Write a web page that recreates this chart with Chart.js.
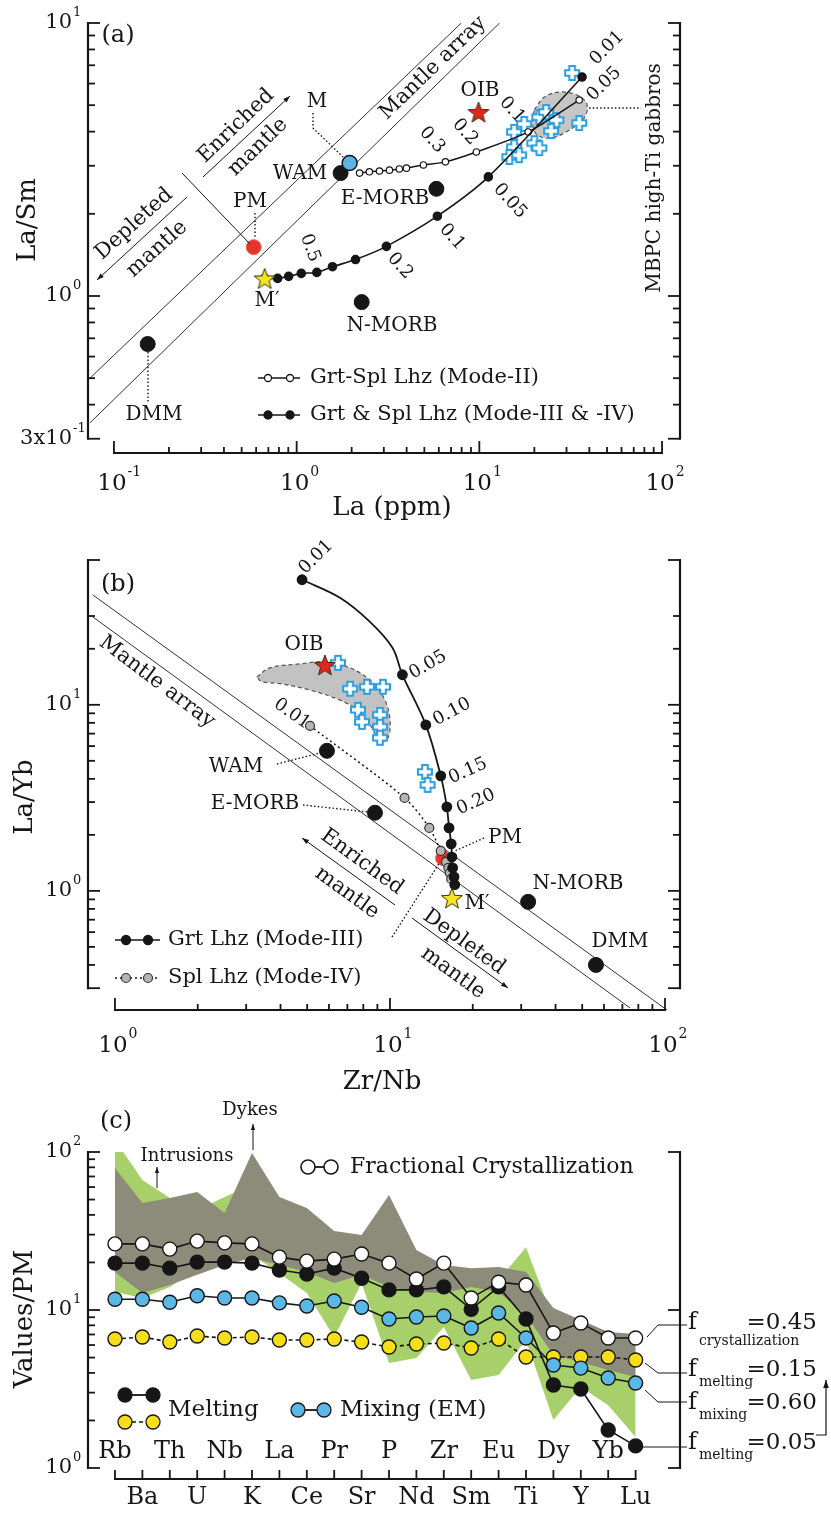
<!DOCTYPE html>
<html>
<head>
<meta charset="utf-8">
<script src="https://cdn.jsdelivr.net/npm/chart.js@4.4.1/dist/chart.umd.min.js"></script>
<style>
  html, body { margin: 0; background: #fff; }
  body { position: relative; width: 831px; height: 1517px; overflow: hidden; }
  canvas { position: absolute; left: 0; }
</style>
</head>
<body>
<canvas id="panelA" width="831" height="528" style="top:0px"></canvas>
<canvas id="panelB" width="831" height="570" style="top:528px"></canvas>
<canvas id="panelC" width="831" height="419" style="top:1098px"></canvas>
<script>
const FONT = '"DejaVu Serif", "Liberation Serif", serif';
const INK = '#161616';

// ---------- (a) La (ppm) vs La/Sm ----------
const aResLa = [0.153, 2.27, 5.82, 1.74];          // DMM, N-MORB, E-MORB, WAM
const aResLaSm = [0.667, 0.95, 2.47, 2.82];
const aPmLa = [0.582], aPmLaSm = [1.51];
const aMLa = [1.95], aMLaSm = [3.07];
const aMpLa = [0.668], aMpLaSm = [1.16];            // M'
const aOibLa = [9.9], aOibLaSm = [4.72];
const aMode2La = [2.21, 2.50, 2.84, 3.22, 3.65, 3.99, 4.94, 6.52, 9.63, 18.5, 35.2];
const aMode2LaSm = [2.82, 2.85, 2.87, 2.89, 2.92, 2.94, 3.02, 3.10, 3.37, 3.99, 5.22];
const aMode34La = [0.668, 0.787, 0.904, 1.06, 1.29, 1.57, 2.10, 3.10, 5.89, 11.2, 36.5];
const aMode34LaSm = [1.16, 1.16, 1.18, 1.21, 1.22, 1.28, 1.36, 1.52, 1.96, 2.73, 6.34];
const aGabLa = [32.2, 35.2, 15.5, 17.6, 21.3, 23.2, 26.4, 24.7, 20.0, 21.3, 15.5, 14.6, 16.5];
const aGabLaSm = [6.56, 4.30, 3.99, 4.27, 4.52, 4.72, 4.41, 4.02, 3.63, 3.48, 3.51, 3.23, 3.28];
const aFieldLa = [20.0, 22.7, 28.1, 35.2, 38.9, 37.5, 31.0, 24.7, 20.7, 19.5, 20.0];
const aFieldLaSm = [4.80, 5.36, 5.59, 5.40, 5.01, 4.49, 4.05, 3.79, 3.89, 4.34, 4.80];
const aArrayUpLa = [0.0739, 7.97], aArrayUpLaSm = [0.50, 10];
const aArrayLoLa = [0.0739, 12.9], aArrayLoLaSm = [0.343, 10];
const aYTicks = [0.3, 0.4, 0.5, 0.6, 0.7, 0.8, 0.9, 1, 2, 3, 4, 5, 6, 7, 8, 9, 10];
const aXTicks = [0.1, 0.2, 0.3, 0.4, 0.5, 0.6, 0.7, 0.8, 0.9, 1, 2, 3, 4, 5, 6, 7, 8, 9,
  10, 20, 30, 40, 50, 60, 70, 80, 90, 100];
const aYLabels = [[0.3, '3x10', '-1'], [1, '10', '0'], [10, '10', '1']];
const aXLabels = [[0.1, '10', '-1'], [1, '10', '0'], [10, '10', '1'], [100, '10', '2']];

// ---------- (b) Zr/Nb vs La/Yb ----------
const bGrtZrNb = [4.79, 6.58, 8.46, 10.2, 11.1, 13.5, 15.3, 16.1, 16.4, 16.7, 16.8, 16.9, 17.1, 17.2];
const bGrtLaYb = [47.0, 37.6, 27.9, 20.3, 14.5, 7.80, 4.15, 2.83, 2.18, 1.79, 1.52, 1.33, 1.19, 1.08];
const bGrtUnmarked = [1, 2, 3];
const bSplZrNb = [5.12, 11.3, 13.9, 15.3, 16.0, 16.3, 16.5, 16.7];
const bSplLaYb = [7.71, 3.16, 2.18, 1.64, 1.43, 1.33, 1.25, 1.16];
const bResZrNb = [5.90, 8.82, 31.8, 56.1];          // WAM, E-MORB, N-MORB, DMM
const bResLaYb = [5.66, 2.63, 0.873, 0.40];
const bPmZrNb = [15.6], bPmLaYb = [1.50];
const bMpZrNb = [16.8], bMpLaYb = [0.917];
const bOibZrNb = [5.80], bOibLaYb = [16.4];
const bGabZrNb = [6.47, 7.16, 8.25, 9.43, 7.65, 7.91, 9.20, 9.20, 9.20, 13.4, 13.7];
const bGabLaYb = [16.8, 12.2, 12.5, 12.5, 9.40, 8.10, 8.83, 7.62, 6.65, 4.36, 3.71];
const bFieldZrNb = [3.28, 3.66, 4.71, 5.80, 7.16, 8.60, 9.59, 10.0, 9.84, 9.20, 8.60, 7.78, 6.58, 5.12, 3.98, 3.42, 3.28];
const bFieldLaYb = [14.1, 15.8, 16.6, 17.0, 15.8, 13.3, 10.6, 8.30, 6.65, 6.32, 7.52, 9.17, 10.6, 12.0, 13.0, 13.3, 14.1];
const bArrayUpZrNb = [0.83, 101.7], bArrayUpLaYb = [39.0, 0.229];
const bArrayLoZrNb = [0.83, 74.6], bArrayLoLaYb = [29.7, 0.235];
const bYTicks = [0.3, 0.4, 0.5, 0.6, 0.7, 0.8, 0.9, 1, 2, 3, 4, 5, 6, 7, 8, 9, 10, 20, 30, 60];
const bXTicks = [1, 2, 3, 4, 5, 6, 7, 8, 9, 10, 20, 30, 40, 50, 60, 70, 80, 90, 100];
const bYLabels = [[1, '10', '0'], [10, '10', '1']];
const bXLabels = [[1, '10', '0'], [10, '10', '1'], [100, '10', '2']];

// ---------- (c) PM-normalised patterns ----------
const elements = ['Rb', 'Ba', 'Th', 'U', 'Nb', 'K', 'La', 'Ce', 'Pr', 'Sr', 'P', 'Nd', 'Zr', 'Sm', 'Eu', 'Ti', 'Dy', 'Y', 'Yb', 'Lu'];
const fracCryst = [26.2, 26.2, 24.3, 27.3, 26.6, 26.2, 21.6, 20.4, 21.0, 22.6, 19.8, 15.7, 19.8, 11.9, 15.0, 14.4, 7.15, 8.27, 6.65, 6.65];
const melt005 = [19.8, 19.8, 18.4, 20.1, 20.1, 19.8, 17.9, 16.9, 18.4, 15.9, 13.4, 13.4, 14.0, 10.1, 14.0, 8.77, 3.35, 3.16, 1.74, 1.38];
const mixEM = [11.7, 11.7, 11.2, 12.3, 11.9, 11.9, 11.1, 10.6, 11.4, 10.4, 8.77, 9.03, 9.16, 7.69, 9.57, 6.65, 4.49, 4.29, 3.71, 3.45];
const melt015 = [6.55, 6.75, 6.27, 6.84, 6.65, 6.75, 6.46, 6.46, 6.55, 6.27, 5.83, 6.09, 6.18, 5.75, 6.55, 5.04, 5.04, 5.04, 5.04, 4.83];
const dykeMax = [79.2, 47.6, 51.2, 55.8, 41.1, 98.6, 51.9, 44.2, 31.6, 29.8, 53.4, 24.0, 19.3, 18.4, 18.7, 17.4, 10.3, 8.64, 7.26, 7.05];
const dykeMin = [17.4, 12.8, 14.4, 16.7, 19.3, 21.3, 19.3, 17.4, 14.8, 16.7, 14.0, 13.0, 12.8, 14.0, 13.0, 9.3, 5.19, 4.69, 4.17, 3.77];
const intrMax = [119, 66.5, 51.2, 42.9, 51.9, 61.8, 39.9, 34.5, 27.7, 25.8, 24.0, 21.3, 17.9, 16.7, 15.5, 25.0, 8.64, 8.03, 6.46, 6.0];
const intrMin = [13.0, 11.9, 14.0, 17.9, 19.8, 22.3, 17.1, 12.8, 6.75, 14.8, 4.62, 4.97, 7.80, 3.61, 3.88, 6.46, 2.01, 3.26, 2.50, 1.57];
const cYTicks = [1, 2, 3, 4, 5, 6, 7, 8, 9, 10, 20, 30, 40, 50, 60, 70, 80, 90, 100];
const cYLabels = [[1, '10', '0'], [10, '10', '1'], [100, '10', '2']];

// ---------- helpers ----------
const pts = (xs, ys) => xs.map((x, i) => ({ x, y: ys[i] }));
const idx = (ys) => ys.map((y, i) => ({ x: i, y }));

function starImg(fill, R) {
  const s = Math.ceil(R * 2 + 4), c = document.createElement('canvas');
  c.width = c.height = s;
  const g = c.getContext('2d');
  g.translate(s / 2, s / 2 + R * 0.1);
  g.beginPath();
  for (let i = 0; i < 10; i++) {
    const r = i % 2 ? R * 0.42 : R, a = -Math.PI / 2 + i * Math.PI / 5;
    g.lineTo(r * Math.cos(a), r * Math.sin(a));
  }
  g.closePath();
  g.fillStyle = fill; g.fill();
  g.lineWidth = 1; g.strokeStyle = '#3a2a10'; g.stroke();
  return c;
}

function plusImg(arm, half, color) {
  const s = arm * 2 + 4, c = document.createElement('canvas');
  c.width = c.height = s;
  const g = c.getContext('2d');
  g.translate(s / 2, s / 2);
  const p = [[-half, -arm], [half, -arm], [half, -half], [arm, -half], [arm, half], [half, half],
    [half, arm], [-half, arm], [-half, half], [-arm, half], [-arm, -half], [-half, -half]];
  g.beginPath(); p.forEach(([x, y]) => g.lineTo(x, y)); g.closePath();
  g.fillStyle = '#fff'; g.fill();
  g.lineWidth = 2; g.strokeStyle = color; g.stroke();
  return c;
}

const redStar = starImg('#e2261d', 11);
const yellowStar = starImg('#f3e521', 11);
const bluePlus = plusImg(7, 2.8, '#2b9ee2');

function text(ctx, s, x, y, size, rot = 0, align = 'center') {
  ctx.save();
  ctx.font = `${size}px ${FONT}`;
  ctx.fillStyle = INK;
  ctx.textAlign = align; ctx.textBaseline = 'middle';
  ctx.translate(x, y);
  if (rot) ctx.rotate(rot * Math.PI / 180);
  ctx.fillText(s, 0, 0);
  ctx.restore();
}

function poly(ctx, p, w = 1.2, dash = null) {
  ctx.save();
  ctx.strokeStyle = INK; ctx.lineWidth = w;
  if (dash) ctx.setLineDash(dash);
  ctx.beginPath(); p.forEach(([x, y]) => ctx.lineTo(x, y)); ctx.stroke();
  ctx.restore();
}
const dotted = (ctx, p) => poly(ctx, p, 1.4, [1.5, 2.2]);

function arrow(ctx, p, w = 1, head = 7) {
  poly(ctx, p, w);
  const [x1, y1] = p[p.length - 2], [x2, y2] = p[p.length - 1];
  const a = Math.atan2(y2 - y1, x2 - x1);
  ctx.save();
  ctx.fillStyle = INK;
  ctx.translate(x2, y2); ctx.rotate(a);
  ctx.beginPath(); ctx.moveTo(0, 0); ctx.lineTo(-head, -head * 0.35); ctx.lineTo(-head, head * 0.35); ctx.closePath(); ctx.fill();
  ctx.restore();
}

function dot(ctx, x, y, r, fill, stroke = INK, w = 1.3) {
  ctx.save();
  ctx.beginPath(); ctx.arc(x, y, r, 0, Math.PI * 2);
  ctx.fillStyle = fill; ctx.fill();
  ctx.lineWidth = w; ctx.strokeStyle = stroke; ctx.stroke();
  ctx.restore();
}

function powLabel(ctx, base, exp, x, y, size, align) {
  const es = Math.round(size * 0.62);
  ctx.save();
  ctx.fillStyle = INK; ctx.textBaseline = 'middle'; ctx.textAlign = 'left';
  ctx.font = `${size}px ${FONT}`;
  const bw = ctx.measureText(base).width;
  const bx = align === 'right' ? x - bw : x - bw / 2;
  ctx.fillText(base, bx, y);
  ctx.font = `${es}px ${FONT}`;
  ctx.fillText(exp, bx + bw + 1, y - size * 0.5);
  ctx.restore();
}

// axes: detached left/right/bottom spines with inward ticks
function frame(chart, ax) {
  const { ctx, chartArea: ca, scales: { x, y } } = chart;
  const ln = (x1, y1, x2, y2) => { ctx.beginPath(); ctx.moveTo(x1, y1); ctx.lineTo(x2, y2); ctx.stroke(); };
  ctx.save();
  ctx.strokeStyle = INK;
  const sides = [[ca.left, 1, ax.yTicks]];
  if (ax.rightTicks) sides.push([ca.right, -1, ax.rightTicks]);
  sides.forEach(([sx, dir, ticks]) => {
    const yTop = y.getPixelForValue(ticks[ticks.length - 1]), yBot = y.getPixelForValue(ticks[0]);
    ctx.lineWidth = 2.2; ln(sx, yTop - 1, sx, yBot + 1);
    ctx.lineWidth = 1.8;
    ticks.forEach(t => {
      const py = y.getPixelForValue(t), len = ax.yMajor.includes(t) ? 12 : 7;
      ln(sx, py, sx + dir * len, py);
    });
  });
  const xv = ax.xTicks, xl = x.getPixelForValue(xv[0]), xr = x.getPixelForValue(xv[xv.length - 1]);
  ctx.lineWidth = 2.2; ln(xl - 1, ca.bottom, xr + 1, ca.bottom);
  ctx.lineWidth = 1.8;
  xv.forEach(t => {
    const px = x.getPixelForValue(t), len = ax.xMajor.includes(t) ? 12 : ax.xMinorLen;
    ln(px, ca.bottom, px, ca.bottom - len);
  });
  ctx.restore();
  ax.yLabels.forEach(([v, b, e]) => powLabel(ctx, b, e, 72, y.getPixelForValue(v), 21, 'right'));
  (ax.xLabels || []).forEach(([v, b, e]) => powLabel(ctx, b, e, x.getPixelForValue(v) - 2, ca.bottom + ax.xLabelDy, 23, 'center'));
}

function deco(top, ax, draw) {
  return {
    id: 'deco',
    beforeDatasetsDraw(chart) {
      if (!draw.under) return;
      const c = chart.ctx; c.save(); c.translate(0, -top); draw.under(c, chart); c.restore();
    },
    afterDatasetsDraw(chart) {
      frame(chart, ax);
      const c = chart.ctx; c.save(); c.translate(0, -top); draw.over(c, chart); c.restore();
    }
  };
}

function makeChart(id, top, area, xs, ys, datasets, ax, draw) {
  const canvas = document.getElementById(id);
  return new Chart(canvas, {
    type: 'scatter',
    data: { datasets },
    options: {
      responsive: false, animation: false, devicePixelRatio: 1, events: [],
      layout: { padding: { left: area[0], right: 831 - area[1], top: area[2] - top, bottom: canvas.height - (area[3] - top) } },
      plugins: { legend: { display: false }, tooltip: { enabled: false } },
      scales: { x: { ...xs, display: false }, y: { ...ys, display: false } }
    },
    plugins: [deco(top, ax, draw)]
  });
}

// ---------- panel (a) ----------
makeChart('panelA', 0, [88, 680, 23, 453],
  { type: 'logarithmic', min: 0.0721, max: 125.4 },
  { type: 'logarithmic', min: 0.266, max: 10 },
  [
    { data: pts(aOibLa, aOibLaSm), pointStyle: redStar, order: 0 },
    { data: pts(aMpLa, aMpLaSm), pointStyle: yellowStar, order: 0 },
    { data: pts(aMLa, aMLaSm), pointRadius: 7.5, backgroundColor: '#5ab4e5', borderColor: INK, borderWidth: 1.5, order: 1 },
    { data: pts(aResLa, aResLaSm), pointRadius: 7.5, backgroundColor: INK, borderColor: INK, order: 1 },
    { data: pts(aPmLa, aPmLaSm), pointRadius: 7.5, backgroundColor: '#e4362b', borderColor: '#ee6a5c', borderWidth: 1, order: 1 },
    { data: pts(aMode34La, aMode34LaSm), showLine: true, tension: 0.3, borderColor: INK, borderWidth: 1.6,
      pointRadius: 4, backgroundColor: INK, order: 2 },
    { data: pts(aMode2La, aMode2LaSm), showLine: true, tension: 0.3, borderColor: INK, borderWidth: 1.5,
      pointRadius: 3.2, pointBackgroundColor: '#fff', pointBorderColor: INK, pointBorderWidth: 1.2, order: 2 },
    { data: pts(aGabLa, aGabLaSm), pointStyle: bluePlus, order: 3 },
    { data: pts(aFieldLa, aFieldLaSm), showLine: true, tension: 0.35, fill: 'shape', backgroundColor: '#c6c6c6',
      borderColor: '#555', borderWidth: 1.2, borderDash: [4, 3], pointRadius: 0, order: 4 },
    { data: pts(aArrayUpLa, aArrayUpLaSm), showLine: true, borderColor: '#333', borderWidth: 1, pointRadius: 0, order: 5 },
    { data: pts(aArrayLoLa, aArrayLoLaSm), showLine: true, borderColor: '#333', borderWidth: 1, pointRadius: 0, order: 5 }
  ],
  { yTicks: aYTicks, rightTicks: aYTicks, yMajor: [0.3, 1, 10], xTicks: aXTicks, xMajor: [0.1, 1, 10, 100],
    xMinorLen: 6, yLabels: aYLabels, xLabels: aXLabels, xLabelDy: 31 },
  {
    over(ctx) {
      text(ctx, '(a)', 118, 36, 24);
      text(ctx, 'La/Sm', 28, 220, 26, -90);
      text(ctx, 'La (ppm)', 392, 508, 26);
      // mantle array annotations
      text(ctx, 'Mantle array', 433, 68, 21, -44);
      arrow(ctx, [[203, 177], [290, 96]]);
      text(ctx, 'Enriched', 236, 126, 21, -44);
      text(ctx, 'mantle', 258, 147, 21, -44);
      arrow(ctx, [[187, 197], [97, 280]]);
      text(ctx, 'Depleted', 134, 224, 21, -42);
      text(ctx, 'mantle', 157, 249, 21, -42);
      poly(ctx, [[182, 173], [250, 244]], 1);
      // reservoir labels
      text(ctx, 'M', 317, 102, 20);
      dotted(ctx, [[313, 113], [313, 128], [343, 157]]);
      text(ctx, 'WAM', 300, 174, 20);
      text(ctx, 'E-MORB', 385, 199, 20);
      text(ctx, 'PM', 250, 202, 20);
      dotted(ctx, [[255, 213], [255, 239]]);
      text(ctx, 'OIB', 480, 91, 20);
      text(ctx, 'M\u2032', 267, 301, 20);
      text(ctx, 'N-MORB', 392, 326, 20);
      text(ctx, 'DMM', 154, 415, 20);
      dotted(ctx, [[148, 352], [148, 402]]);
      // melt fraction labels
      text(ctx, '0.01', 607, 48, 18, -45);
      text(ctx, '0.05', 604, 84, 18, -45);
      text(ctx, '0.3', 432, 140, 18, 48);
      text(ctx, '0.2', 465, 132, 18, 48);
      text(ctx, '0.1', 512, 110, 18, 48);
      text(ctx, '0.05', 510, 201, 18, 48);
      text(ctx, '0.1', 452, 237, 18, 48);
      text(ctx, '0.2', 400, 266, 18, 48);
      text(ctx, '0.5', 310, 248, 18, 70);
      // gabbro field
      dotted(ctx, [[589, 108], [641, 108]]);
      text(ctx, 'MBPC high-Ti gabbros', 655, 178, 20, -90);
      // legend
      poly(ctx, [[258, 378], [300, 378]], 1.5);
      dot(ctx, 268, 378, 3.5, '#fff'); dot(ctx, 290, 378, 3.5, '#fff');
      text(ctx, 'Grt-Spl Lhz (Mode-II)', 310, 378, 21, 0, 'left');
      poly(ctx, [[258, 415], [300, 415]], 1.5);
      dot(ctx, 268, 415, 4, INK); dot(ctx, 290, 415, 4, INK);
      text(ctx, 'Grt & Spl Lhz (Mode-III & -IV)', 310, 415, 21, 0, 'left');
    }
  });

// ---------- panel (b) ----------
makeChart('panelB', 528, [88, 680, 560, 1010],
  { type: 'logarithmic', min: 0.798, max: 113.4 },
  { type: 'logarithmic', min: 0.229, max: 60 },
  [
    { data: pts(bOibZrNb, bOibLaYb), pointStyle: redStar, order: 0 },
    { data: pts(bMpZrNb, bMpLaYb), pointStyle: yellowStar, order: 0 },
    { data: pts(bResZrNb, bResLaYb), pointRadius: 7.5, backgroundColor: INK, borderColor: INK, order: 1 },
    { data: pts(bGrtZrNb, bGrtLaYb), showLine: true, tension: 0.35, borderColor: INK, borderWidth: 1.8,
      pointRadius: c => (bGrtUnmarked.includes(c.dataIndex) ? 0 : 4.5), backgroundColor: INK, order: 2 },
    { data: pts(bSplZrNb, bSplLaYb), showLine: true, tension: 0.3, borderColor: INK, borderWidth: 1.5, borderDash: [2, 3],
      pointRadius: 4.5, pointBackgroundColor: '#b5b5b5', pointBorderColor: '#333', pointBorderWidth: 1.2, order: 3 },
    { data: pts(bPmZrNb, bPmLaYb), pointRadius: 7.5, backgroundColor: '#e4362b', borderColor: '#ee6a5c', borderWidth: 1, order: 4 },
    { data: pts(bGabZrNb, bGabLaYb), pointStyle: bluePlus, order: 5 },
    { data: pts(bFieldZrNb, bFieldLaYb), showLine: true, tension: 0.35, fill: 'shape', backgroundColor: '#c2c2c2',
      borderColor: '#555', borderWidth: 1.2, borderDash: [4, 3], pointRadius: 0, order: 6 },
    { data: pts(bArrayUpZrNb, bArrayUpLaYb), showLine: true, borderColor: '#333', borderWidth: 1, pointRadius: 0, order: 7 },
    { data: pts(bArrayLoZrNb, bArrayLoLaYb), showLine: true, borderColor: '#333', borderWidth: 1, pointRadius: 0, order: 7 }
  ],
  { yTicks: bYTicks, rightTicks: bYTicks, yMajor: [0.3, 1, 10, 60], xTicks: bXTicks, xMajor: [1, 10, 100],
    xMinorLen: 6, yLabels: bYLabels, xLabels: bXLabels, xLabelDy: 36 },
  {
    over(ctx) {
      text(ctx, '(b)', 118, 585, 24);
      text(ctx, 'La/Yb', 25, 797, 26, -90);
      text(ctx, 'Zr/Nb', 382, 1082, 26);
      text(ctx, 'Mantle array', 157, 682, 21, 37);
      arrow(ctx, [[395, 905], [302, 838]]);
      text(ctx, 'Enriched', 362, 862, 21, 36);
      text(ctx, 'mantle', 347, 893, 21, 36);
      arrow(ctx, [[412, 918], [508, 988]]);
      text(ctx, 'Depleted', 464, 942, 21, 36);
      text(ctx, 'mantle', 453, 973, 21, 36);
      dotted(ctx, [[392, 937], [440, 862]]);
      text(ctx, 'OIB', 304, 645, 20);
      text(ctx, 'WAM', 236, 767, 20);
      dotted(ctx, [[277, 764], [320, 753]]);
      text(ctx, 'E-MORB', 255, 804, 20);
      dotted(ctx, [[303, 805], [368, 812]]);
      text(ctx, 'PM', 505, 838, 20);
      dotted(ctx, [[484, 838], [455, 851]]);
      text(ctx, 'N-MORB', 578, 884, 20);
      text(ctx, 'DMM', 620, 942, 20);
      text(ctx, 'M\u2032', 477, 904, 20);
      text(ctx, '0.01', 316, 557, 18, -45);
      text(ctx, '0.05', 428, 665, 18, -30);
      text(ctx, '0.10', 452, 712, 18, -28);
      text(ctx, '0.15', 468, 771, 18, -24);
      text(ctx, '0.20', 476, 802, 18, -24);
      text(ctx, '0.01', 292, 714, 18, 35);
      // legend
      poly(ctx, [[115, 940], [160, 940]], 1.6);
      dot(ctx, 126, 940, 4.5, INK); dot(ctx, 148, 940, 4.5, INK);
      text(ctx, 'Grt Lhz (Mode-III)', 168, 940, 21, 0, 'left');
      poly(ctx, [[115, 978], [160, 978]], 1.5, [2, 3]);
      dot(ctx, 126, 978, 4.5, '#b5b5b5', '#333', 1.2); dot(ctx, 148, 978, 4.5, '#b5b5b5', '#333', 1.2);
      text(ctx, 'Spl Lhz (Mode-IV)', 168, 978, 21, 0, 'left');
    }
  });

// ---------- panel (c) ----------
const cMarker = (bg, line) => ({
  showLine: true, borderColor: INK, borderWidth: 1.6, pointRadius: 7, pointBackgroundColor: bg,
  pointBorderColor: INK, pointBorderWidth: 1.4, ...line
});
makeChart('panelC', 1098, [88, 680, 1152, 1479],
  { type: 'linear', min: -0.985, max: 20.62 },
  { type: 'logarithmic', min: 0.852, max: 100 },
  [
    { data: idx(fracCryst), ...cMarker('#fff'), order: 1 },
    { data: idx(melt005), ...cMarker(INK), order: 2 },
    { data: idx(mixEM), ...cMarker('#5bb7e6'), order: 3 },
    { data: idx(melt015), ...cMarker('#f6df18', { borderDash: [4, 3] }), order: 4 },
    { data: idx(dykeMax), showLine: true, fill: '+1', backgroundColor: '#8d8b79', borderWidth: 0, pointRadius: 0, order: 10 },
    { data: idx(dykeMin), showLine: true, borderWidth: 0, pointRadius: 0, order: 10 },
    { data: idx(intrMax), showLine: true, fill: '+1', backgroundColor: '#a8d06a', borderWidth: 0, pointRadius: 0, order: 11 },
    { data: idx(intrMin), showLine: true, borderWidth: 0, pointRadius: 0, order: 11 }
  ],
  { yTicks: cYTicks, rightTicks: [1, 10, 100], yMajor: [1, 10, 100], xTicks: elements.map((e, i) => i), xMajor: [],
    xMinorLen: 9, yLabels: cYLabels },
  {
    under(ctx, chart) {
      const x = chart.scales.x;
      elements.forEach((el, i) => text(ctx, el, x.getPixelForValue(i), i % 2 ? 1498 : 1452, 24));
    },
    over(ctx) {
      text(ctx, '(c)', 116, 1122, 24);
      text(ctx, 'Values/PM', 25, 1319, 26, -90);
      text(ctx, 'Dykes', 250, 1110, 18);
      arrow(ctx, [[253, 1150], [253, 1124]], 1, 6);
      text(ctx, 'Intrusions', 187, 1156, 18);
      arrow(ctx, [[157, 1188], [157, 1167]], 1, 6);
      // legend
      poly(ctx, [[308, 1167], [331, 1167]], 1.8);
      dot(ctx, 308, 1167, 7, '#fff', INK, 1.6); dot(ctx, 331, 1167, 7, '#fff', INK, 1.6);
      text(ctx, 'Fractional Crystallization', 350, 1167, 22, 0, 'left');
      poly(ctx, [[125, 1395], [153, 1395]], 1.8);
      dot(ctx, 125, 1395, 7, INK); dot(ctx, 153, 1395, 7, INK);
      poly(ctx, [[125, 1422], [153, 1422]], 1.5, [4, 3]);
      dot(ctx, 125, 1422, 7, '#f6df18'); dot(ctx, 153, 1422, 7, '#f6df18');
      text(ctx, 'Melting', 168, 1410, 23, 0, 'left');
      poly(ctx, [[298, 1410], [324, 1410]], 1.8);
      dot(ctx, 298, 1410, 7, '#5bb7e6'); dot(ctx, 324, 1410, 7, '#5bb7e6');
      text(ctx, 'Mixing (EM)', 340, 1410, 23, 0, 'left');
      // model fractions
      poly(ctx, [[647, 1337], [658, 1325], [687, 1325]], 1);
      poly(ctx, [[645, 1363], [658, 1373], [687, 1373]], 1);
      poly(ctx, [[645, 1390], [658, 1402], [687, 1402]], 1);
      poly(ctx, [[643, 1447], [687, 1447]], 1);
      const rows = [[1323, 'crystallization', '=0.45', 1341], [1370, 'melting', '=0.15', 1382],
        [1403, 'mixing', '=0.60', 1415], [1443, 'melting', '=0.05', 1455]];
      rows.forEach(([yy, sub, val, ys]) => {
        text(ctx, 'f', 688, yy, 24, 0, 'left');
        text(ctx, sub, 699, ys, 14, 0, 'left');
        text(ctx, val, 817, yy, 23, 0, 'right');
      });
      arrow(ctx, [[816, 1435], [826, 1435], [826, 1380]], 1.2, 8);
    }
  });
</script>
</body>
</html>
